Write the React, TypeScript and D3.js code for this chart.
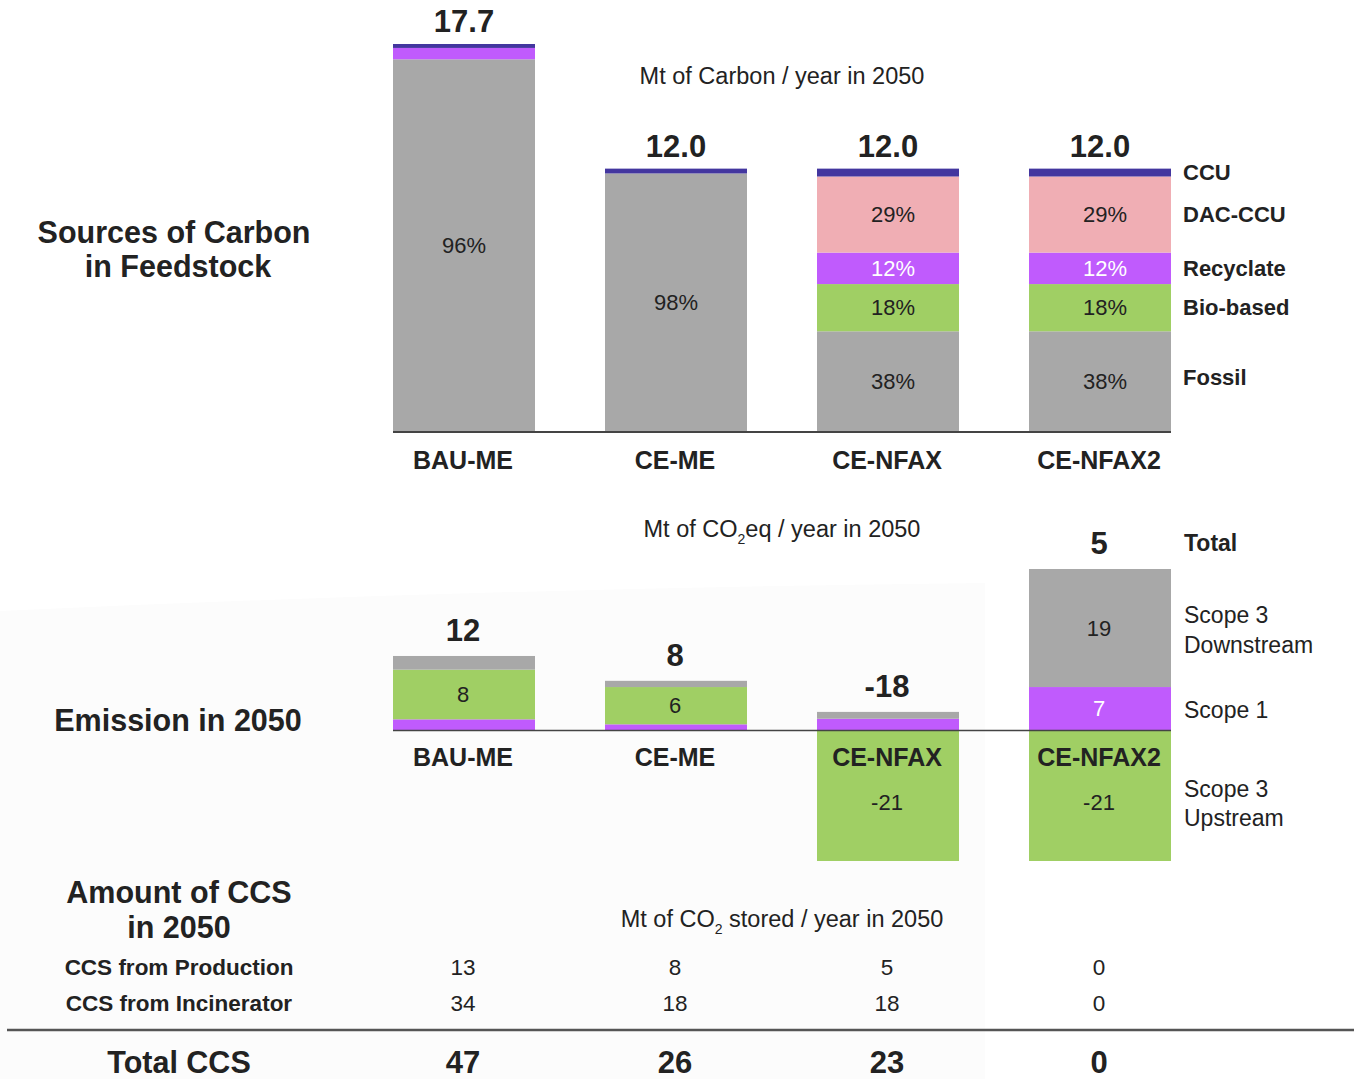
import React from "react";
import * as d3 from "d3";

const categories = ["BAU-ME", "CE-ME", "CE-NFAX", "CE-NFAX2"];

// Sources of carbon in feedstock (Mt of carbon / year in 2050)
const fossil = [17.0, 11.78, 4.56, 4.56];
const bioBased = [0, 0, 2.16, 2.16];
const recyclate = [0.52, 0, 1.44, 1.44];
const dacCcu = [0, 0, 3.48, 3.48];
const ccu = [0.18, 0.22, 0.36, 0.36];
const feedTotals = ["17.7", "12.0", "12.0", "12.0"];
const fossilPct = ["96%", "98%", "38%", "38%"];
const bioPct = ["", "", "18%", "18%"];
const recyPct = ["", "", "12%", "12%"];
const dacPct = ["", "", "29%", "29%"];
const feedLegend = ["Fossil", "Bio-based", "Recyclate", "DAC-CCU", "CCU"];

// Emission in 2050 (Mt CO2eq / year)
const scope1 = [1.8, 1, 1.9, 7];
const scope3Up = [8, 6, -21, -21];
const scope3Down = [2.2, 1, 1.1, 19];
const emisTotals = ["12", "8", "-18", "5"];
const scope1Labels = ["", "", "", "7"];
const upLabels = ["8", "6", "-21", "-21"];
const downLabels = ["", "", "", "19"];

// CCS
const ccsProduction = [13, 8, 5, 0];
const ccsIncinerator = [34, 18, 18, 0];
const ccsTotal = [47, 26, 23, 0];

const C = {
  grey: "#a8a8a8",
  purple: "#c05bfd",
  blue: "#43369f",
  pink: "#f0aeb4",
  green: "#a0cf64",
  text: "#222222",
};
const FONT = "'Liberation Sans', Arial, sans-serif";

export default function App() {
  const x = d3.scaleBand<string>().domain(categories).range([393, 1171]).paddingInner(70 / 212).paddingOuter(0);
  const bw = x.bandwidth();
  const yTop = d3.scaleLinear().domain([0, 17.7]).range([431, 44]);
  const yEm = d3.scaleLinear().domain([-21, 26]).range([861, 569]);

  const feedSeries = [
    { vals: fossil, color: C.grey, labels: fossilPct, lc: C.text },
    { vals: bioBased, color: C.green, labels: bioPct, lc: C.text },
    { vals: recyclate, color: C.purple, labels: recyPct, lc: "#ffffff" },
    { vals: dacCcu, color: C.pink, labels: dacPct, lc: C.text },
    { vals: ccu, color: C.blue, labels: categories.map(() => ""), lc: C.text },
  ];

  const feedRects: React.ReactNode[] = [];
  const feedLabels: React.ReactNode[] = [];
  categories.forEach((cat, i) => {
    let acc = 0;
    feedSeries.forEach((s, k) => {
      const v = s.vals[i];
      if (v <= 0) return;
      const y0 = yTop(acc);
      const y1 = yTop(acc + v);
      feedRects.push(
        <rect key={`f${i}-${k}`} x={x(cat)} y={y1} width={bw} height={y0 - y1} fill={s.color} />
      );
      if (s.labels[i]) {
        feedLabels.push(
          <text key={`fl${i}-${k}`} x={(x(cat) as number) + bw / 2 + (i >= 2 ? 5 : 0)} y={(y0 + y1) / 2} dy="0.35em"
            textAnchor="middle" fontSize={22} fill={s.lc}>{s.labels[i]}</text>
        );
      }
      acc += v;
    });
    feedLabels.push(
      <text key={`ft${i}`} x={(x(cat) as number) + bw / 2} y={yTop(acc) - 12} textAnchor="middle"
        fontSize={31} fontWeight="bold" fill={C.text}>{feedTotals[i]}</text>
    );
    feedLabels.push(
      <text key={`fc${i}`} x={(x(cat) as number) + bw / 2 - 1} y={460} dy="0.35em" textAnchor="middle"
        fontSize={25} fontWeight="bold" fill={C.text}>{cat}</text>
    );
  });

  // legend for feedstock aligned to last bar segments
  const lastI = categories.length - 1;
  const legendFeed: React.ReactNode[] = [];
  {
    let acc = 0;
    feedSeries.forEach((s, k) => {
      const v = s.vals[lastI];
      const yc = (yTop(acc) + yTop(acc + v)) / 2;
      legendFeed.push(
        <text key={`lg${k}`} x={1183} y={yc - (k === 0 ? 4 : 0)} dy="0.35em" fontSize={22} fontWeight="bold"
          fill={C.text}>{feedLegend[k]}</text>
      );
      acc += v;
    });
  }

  const emRects: React.ReactNode[] = [];
  const emLabels: React.ReactNode[] = [];
  categories.forEach((cat, i) => {
    const xc = (x(cat) as number) + bw / 2;
    let pos = 0;
    const segs = [
      { v: scope1[i], color: C.purple, label: scope1Labels[i], lc: "#ffffff" },
      { v: scope3Up[i], color: C.green, label: upLabels[i], lc: C.text },
      { v: scope3Down[i], color: C.grey, label: downLabels[i], lc: C.text },
    ];
    segs.forEach((s, k) => {
      let a: number, b: number;
      if (s.v >= 0) {
        a = pos; b = pos + s.v; pos = b;
      } else {
        a = s.v; b = 0;
      }
      const y0 = yEm(a), y1 = yEm(b);
      emRects.push(<rect key={`e${i}-${k}`} x={x(cat)} y={y1} width={bw} height={y0 - y1} fill={s.color} />);
      if (s.label) {
        emLabels.push(
          <text key={`el${i}-${k}`} x={xc - 1} y={(y0 + y1) / 2 + (s.v < 0 ? 7 : 0)} dy="0.35em" textAnchor="middle"
            fontSize={22} fill={s.lc}>{s.label}</text>
        );
      }
    });
    emLabels.push(
      <text key={`et${i}`} x={xc - 1} y={yEm(pos) - 15} textAnchor="middle" fontSize={31} fontWeight="bold"
        fill={C.text}>{emisTotals[i]}</text>
    );
    emLabels.push(
      <text key={`ec${i}`} x={xc - 1} y={757} dy="0.35em" textAnchor="middle" fontSize={25} fontWeight="bold"
        fill={C.text}>{cat}</text>
    );
  });

  const colX = categories.map((c) => (x(c) as number) + bw / 2 - 1);

  return (
    <svg width={1356} height={1079} style={{ position: "absolute", left: 0, top: 0 }} fontFamily={FONT}>
      <rect x={0} y={0} width={1356} height={1079} fill="#ffffff" />
      <path d="M0,611 Q500,588 985,583 L985,1079 L0,1079 Z" fill="#fcfcfc" />

      {/* Section titles */}
      <text x={174} y={232} dy="0.35em" textAnchor="middle" fontSize={30.5} fontWeight="bold" fill={C.text}>Sources of Carbon</text>
      <text x={178} y={266} dy="0.35em" textAnchor="middle" fontSize={30.5} fontWeight="bold" fill={C.text}>in Feedstock</text>
      <text x={178} y={720} dy="0.35em" textAnchor="middle" fontSize={30.5} fontWeight="bold" fill={C.text}>Emission in 2050</text>
      <text x={179} y={892} dy="0.35em" textAnchor="middle" fontSize={30.5} fontWeight="bold" fill={C.text}>Amount of CCS</text>
      <text x={179} y={927} dy="0.35em" textAnchor="middle" fontSize={30.5} fontWeight="bold" fill={C.text}>in 2050</text>

      {/* Units */}
      <text x={782} y={76} dy="0.35em" textAnchor="middle" fontSize={23.5} fill={C.text}>Mt of Carbon / year in 2050</text>
      <text x={782} y={529} dy="0.35em" textAnchor="middle" fontSize={23.5} fill={C.text}>
        Mt of CO<tspan fontSize={14} dy="7">2</tspan><tspan dy="-7">eq / year in 2050</tspan>
      </text>
      <text x={782} y={919} dy="0.35em" textAnchor="middle" fontSize={23.5} fill={C.text}>
        Mt of CO<tspan fontSize={14} dy="7">2</tspan><tspan dy="-7"> stored / year in 2050</tspan>
      </text>

      {/* Feedstock chart */}
      {feedRects}
      <line x1={393} x2={1171} y1={yTop(0) + 1} y2={yTop(0) + 1} stroke="#444" strokeWidth={2} />
      {feedLabels}
      {legendFeed}

      {/* Emission chart */}
      {emRects}
      <line x1={393} x2={1171} y1={yEm(0)} y2={yEm(0)} stroke="#444" strokeWidth={1.5} />
      {emLabels}
      <text x={1184} y={543} dy="0.35em" fontSize={23} fontWeight="bold" fill={C.text}>Total</text>
      <text x={1184} y={615} dy="0.35em" fontSize={23} fill={C.text}>Scope 3</text>
      <text x={1184} y={645} dy="0.35em" fontSize={23} fill={C.text}>Downstream</text>
      <text x={1184} y={710} dy="0.35em" fontSize={23} fill={C.text}>Scope 1</text>
      <text x={1184} y={789} dy="0.35em" fontSize={23} fill={C.text}>Scope 3</text>
      <text x={1184} y={818} dy="0.35em" fontSize={23} fill={C.text}>Upstream</text>

      {/* CCS table */}
      <text x={179} y={967} dy="0.35em" textAnchor="middle" fontSize={22.5} fontWeight="bold" fill={C.text}>CCS from Production</text>
      <text x={179} y={1003} dy="0.35em" textAnchor="middle" fontSize={22.5} fontWeight="bold" fill={C.text}>CCS from Incinerator</text>
      {ccsProduction.map((v, i) => (
        <text key={`p${i}`} x={colX[i]} y={967} dy="0.35em" textAnchor="middle" fontSize={22.5} fill={C.text}>{v}</text>
      ))}
      {ccsIncinerator.map((v, i) => (
        <text key={`n${i}`} x={colX[i]} y={1003} dy="0.35em" textAnchor="middle" fontSize={22.5} fill={C.text}>{v}</text>
      ))}
      <line x1={7} x2={1354} y1={1030} y2={1030} stroke="#555" strokeWidth={2.5} />
      <text x={179} y={1062} dy="0.35em" textAnchor="middle" fontSize={30.5} fontWeight="bold" fill={C.text}>Total CCS</text>
      {ccsTotal.map((v, i) => (
        <text key={`t${i}`} x={colX[i]} y={1062} dy="0.35em" textAnchor="middle" fontSize={31} fontWeight="bold" fill={C.text}>{v}</text>
      ))}
    </svg>
  );
}
